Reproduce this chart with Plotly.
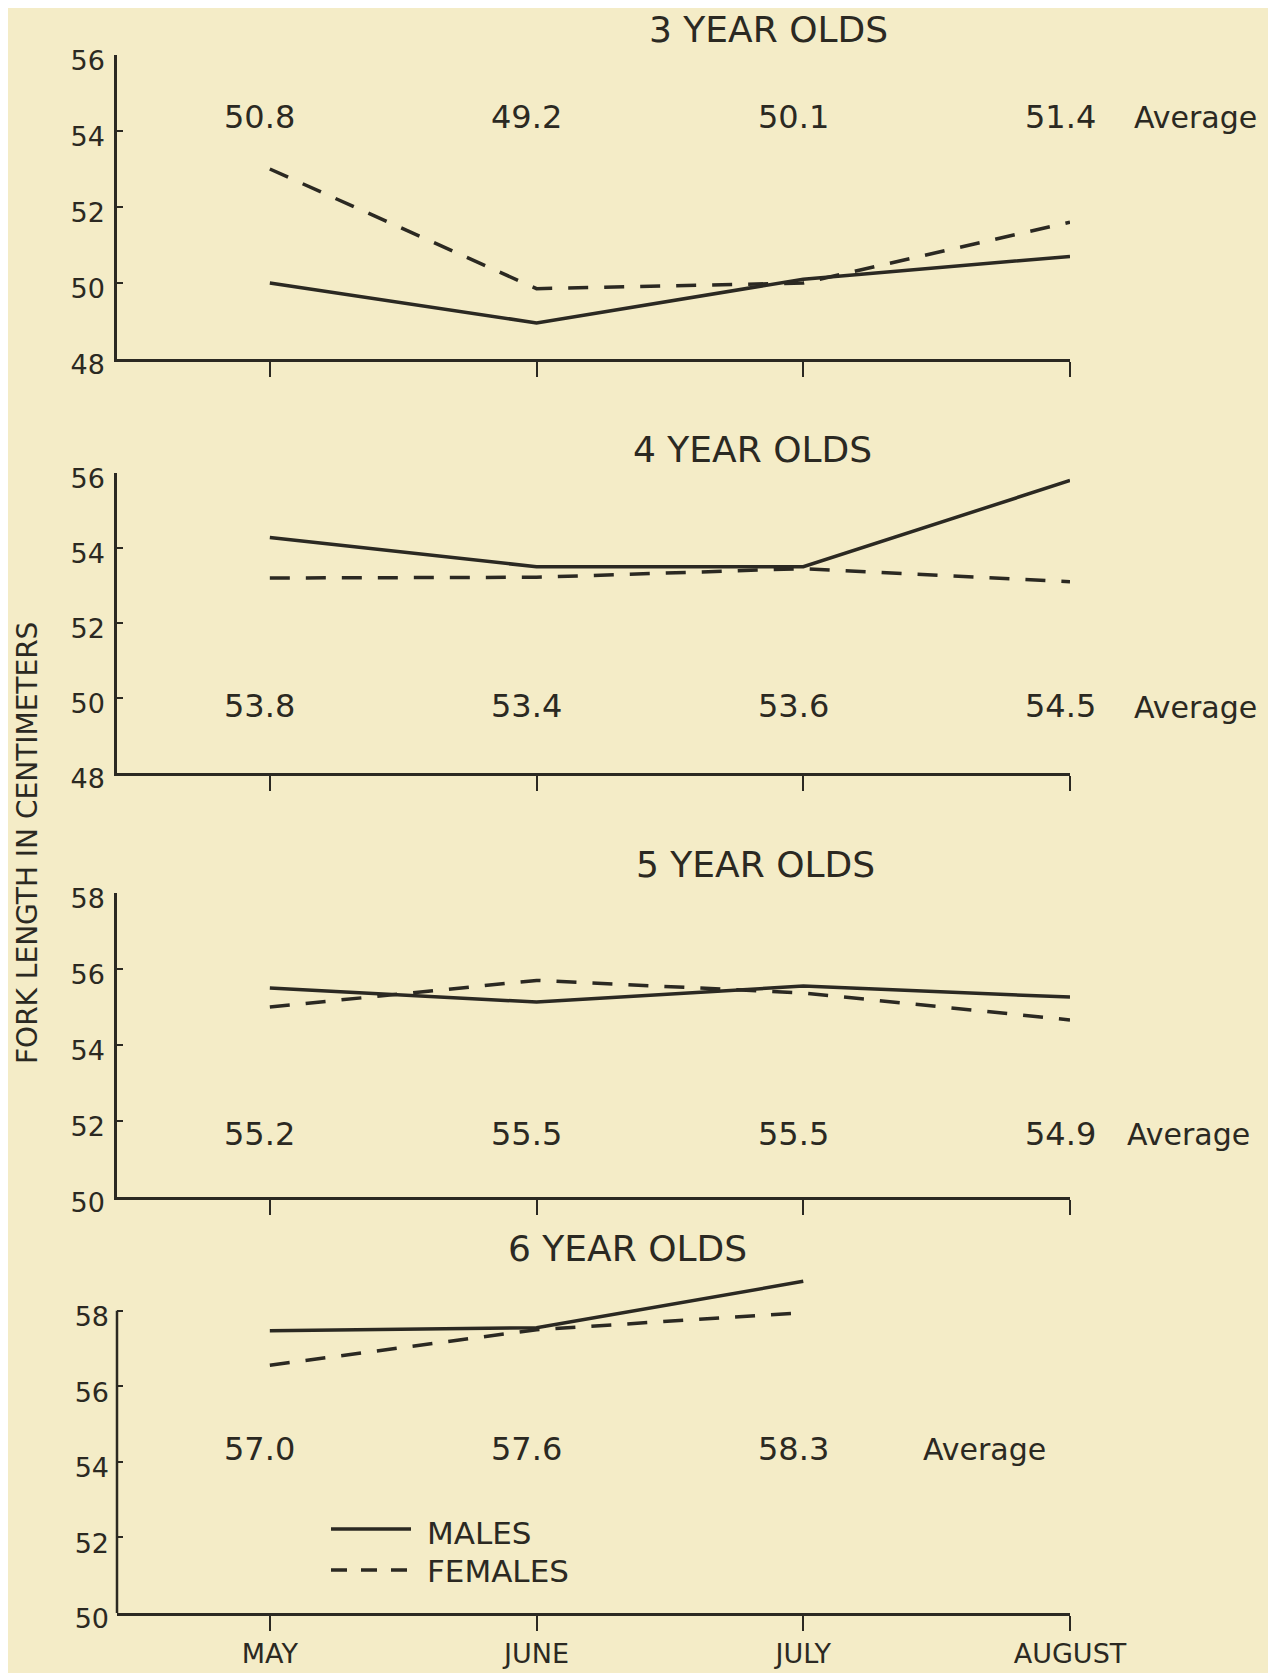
import plotly.graph_objects as go

months = ["MAY", "JUNE", "JULY", "AUGUST"]

# Panel data (fork length, cm)
titles = ["3 YEAR OLDS", "4 YEAR OLDS", "5 YEAR OLDS", "6 YEAR OLDS"]
males_3 = [50.0, 48.95, 50.1, 50.7]
females_3 = [53.0, 49.85, 50.0, 51.6]
males_4 = [54.28, 53.5, 53.5, 55.8]
females_4 = [53.2, 53.22, 53.45, 53.1]
males_5 = [55.5, 55.13, 55.55, 55.26]
females_5 = [55.0, 55.7, 55.37, 54.66]
males_6 = [57.47, 57.55, 58.78]
females_6 = [56.56, 57.5, 57.95]

avg_3 = ["50.8", "49.2", "50.1", "51.4"]
avg_4 = ["53.8", "53.4", "53.6", "54.5"]
avg_5 = ["55.2", "55.5", "55.5", "54.9"]
avg_6 = ["57.0", "57.6", "58.3"]

y_ranges = [[48, 56], [48, 56], [50, 58], [50, 59]]
y_ticks = [[48, 50, 52, 54, 56], [48, 50, 52, 54, 56], [50, 52, 54, 56, 58], [50, 52, 54, 56, 58]]
avg_y = [54.37, 49.8, 51.66, 54.34]

males = [males_3, males_4, males_5, males_6]
females = [females_3, females_4, females_5, females_6]
avgs = [avg_3, avg_4, avg_5, avg_6]

BG = "#f4ecc7"
INK = "#2b2922"
FONT = "DejaVu Sans"
W, H = 1276, 1673
OFF = 8  # page body margin


def fx(px):
    return (px - OFF) / W


def fy(px):
    return 1 - (px - OFF) / H


# vertical domains (page pixels: bottom, top)
domains = [[fy(359), fy(55)], [fy(773), fy(473)], [fy(1197), fy(893)], [fy(1613), fy(1273)]]
x_dom = [fx(117), fx(1070)]
x_range = [-0.573, 3.0]
female_dash = "20px,16px"

fig = go.Figure()
annotations = []
shapes = []
layout = {}

for i in range(4):
    n = "" if i == 0 else str(i + 1)
    xa, ya = "x" + n, "y" + n
    fig.add_trace(go.Scatter(x=months[:len(males[i])], y=males[i], xaxis=xa, yaxis=ya, mode="lines",
                             line=dict(color=INK, width=3.5), name="MALES", showlegend=False))
    fig.add_trace(go.Scatter(x=months[:len(females[i])], y=females[i], xaxis=xa, yaxis=ya, mode="lines",
                             line=dict(color=INK, width=3.5, dash=female_dash), name="FEMALES",
                             showlegend=False))
    layout["xaxis" + n] = dict(
        domain=x_dom, anchor=ya, type="category", categoryorder="array", categoryarray=months,
        range=x_range, showgrid=False, zeroline=False, showline=True, linecolor=INK, linewidth=2.5,
        ticks="outside", ticklen=15, tickwidth=2, tickcolor=INK, automargin=False,
        tickvals=months, ticktext=months, showticklabels=(i == 3),
        tickfont=dict(family=FONT, size=27, color=INK), ticklabelstandoff=0,
    )
    layout["yaxis" + n] = dict(
        domain=domains[i], anchor=xa, range=y_ranges[i], tickvals=y_ticks[i], showgrid=False,
        zeroline=False, showline=(i < 3), linecolor=INK, linewidth=2.5, ticks="inside", ticklen=6,
        tickwidth=2, tickcolor=INK, automargin=False, ticklabelshift=6,
        tickfont=dict(family=FONT, size=27, color=INK), ticklabelstandoff=(4 if i < 3 else 7),
    )
    for j, txt in enumerate(avgs[i]):
        annotations.append(dict(x=months[j], y=avg_y[i], xref=xa, yref=ya, text=txt, showarrow=False,
                                font=dict(family=FONT, size=32, color=INK), xanchor="center",
                                yanchor="middle", xshift=-10))

# y-axis line of bottom panel stops at 58 while the data range goes above it
shapes.append(dict(type="line", xref="x4 domain", yref="y4", x0=0, x1=0, y0=50, y1=58,
                   line=dict(color=INK, width=2.5)))

# "Average" words (page pixel centres)
avg_word_pos = [(1195, 117), (1195, 707), (1188, 1134), (984, 1449)]
for (ax_, ay_) in avg_word_pos:
    annotations.append(dict(x=fx(ax_), y=fy(ay_), xref="paper", yref="paper", text="Average",
                            showarrow=False, font=dict(family=FONT, size=30, color=INK),
                            xanchor="center", yanchor="middle"))

title_pos = [(768, 30), (752, 450), (755, 864), (627, 1248)]
for t, (tx, ty) in zip(titles, title_pos):
    annotations.append(dict(x=fx(tx), y=fy(ty), xref="paper", yref="paper", text=t, showarrow=False,
                            font=dict(family=FONT, size=36, color=INK), xanchor="center",
                            yanchor="middle"))

annotations.append(dict(x=fx(27), y=fy(843), xref="paper", yref="paper",
                        text="FORK LENGTH IN CENTIMETERS", textangle=-90, showarrow=False,
                        font=dict(family=FONT, size=28, color=INK), xanchor="center",
                        yanchor="middle"))

# legend key
annotations.append(dict(x=fx(425), y=fy(1533), xref="paper", yref="paper", text="MALES",
                        showarrow=False, font=dict(family=FONT, size=31, color=INK),
                        xanchor="left", yanchor="middle"))
annotations.append(dict(x=fx(425), y=fy(1571), xref="paper", yref="paper", text="FEMALES",
                        showarrow=False, font=dict(family=FONT, size=31, color=INK),
                        xanchor="left", yanchor="middle"))
shapes += [
    dict(type="line", xref="paper", yref="paper", x0=fx(331), x1=fx(411), y0=fy(1529), y1=fy(1529),
         line=dict(color=INK, width=3.5)),
    dict(type="line", xref="paper", yref="paper", x0=fx(331), x1=fx(411), y0=fy(1570), y1=fy(1570),
         line=dict(color=INK, width=3.5, dash="16px,14px")),
]

fig.update_layout(
    width=W, height=H, margin=dict(l=0, r=0, t=0, b=0, autoexpand=False),
    paper_bgcolor=BG, plot_bgcolor=BG, showlegend=False,
    annotations=annotations, shapes=shapes, **layout,
)

fig.write_html("out.html")
